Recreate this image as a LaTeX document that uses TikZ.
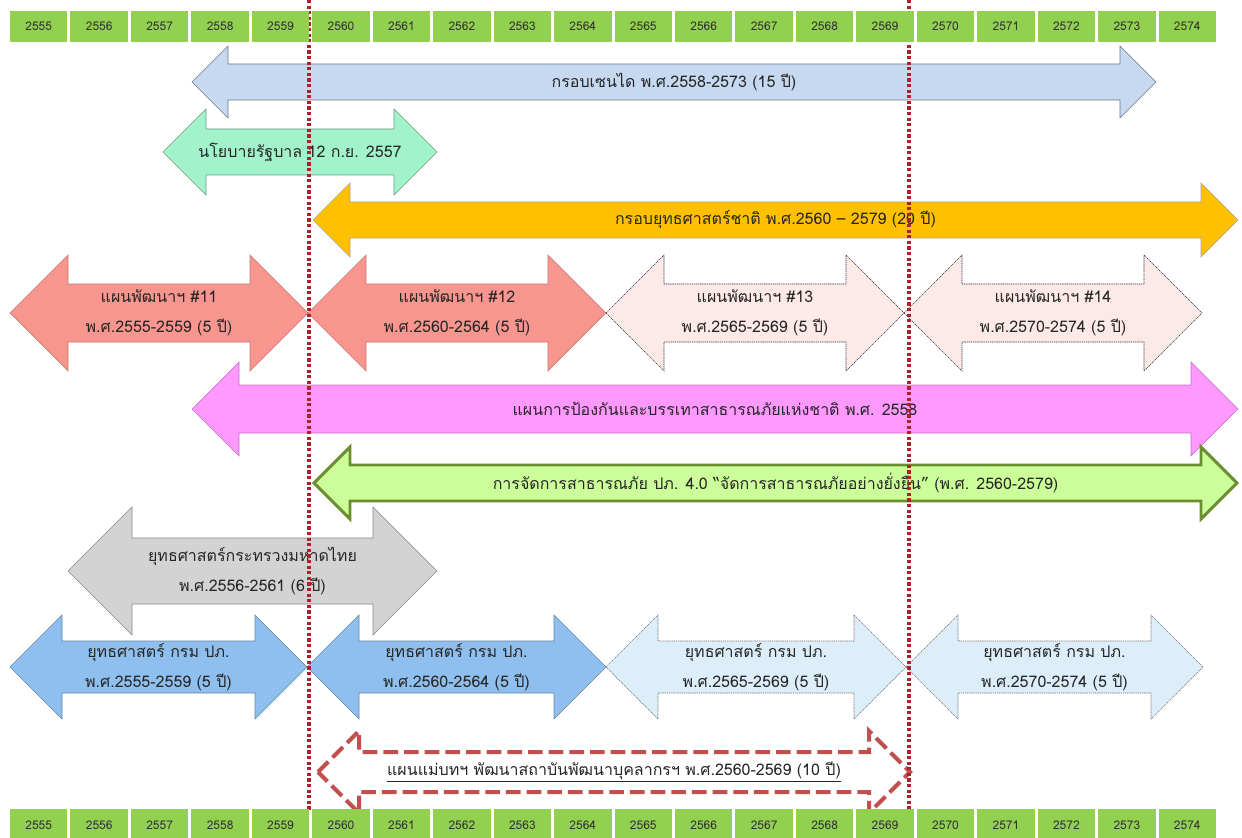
\documentclass[tikz,border=0pt]{standalone}
\usepackage{fontspec}
\newfontfamily\thaifnt[Script=Thai]{Loma}
\usepackage{tikz}
\usetikzlibrary{calc,positioning}

\definecolor{yeargreen}{HTML}{92D050}
\definecolor{sendaiblue}{HTML}{C6D9F1}
\definecolor{policymint}{HTML}{A2F2CC}
\definecolor{nationyellow}{HTML}{FFC000}
\definecolor{devsalmon}{HTML}{F7968F}
\definecolor{devpale}{HTML}{FDE9E8}
\definecolor{drmviolet}{HTML}{FF99FF}
\definecolor{mgmtlime}{HTML}{CCFF99}
\definecolor{mgmtolive}{HTML}{6B8E2F}
\definecolor{mointgray}{HTML}{D3D3D3}
\definecolor{ddpmblue}{HTML}{8EBFEF}
\definecolor{ddpmpale}{HTML}{DDEEFB}
\definecolor{cutred}{HTML}{A8232A}
\definecolor{hrdred}{HTML}{C0504D}

\tikzset{
    >=stealth,
    yearcell/.style={
        rectangle,
        fill=yeargreen,
        minimum width=43.1pt,
        minimum height=23.3pt,
        inner sep=0pt,
        text=black!80,
        font=\thaifnt\fontsize{9}{10}\selectfont
    },
    plantext/.style={
        inner sep=0pt,
        align=center,
        text=black!85,
        font=\thaifnt\fontsize{12}{22.5}\selectfont
    },
    cutline/.style={draw=cutred, line width=2.6pt, dash pattern=on 2.4pt off 1.8pt},
}

% two headed arrow: style, left tip, right tip, centre y, half shaft, half head, name, text
\newcommand\twoway[8]{%
    \draw[#1] ({#2},{#4}) -- ({#2+#6},{#4-#6}) -- ({#2+#6},{#4-#5})
        -- ({#3-#6},{#4-#5}) -- ({#3-#6},{#4-#6}) -- ({#3},{#4})
        -- ({#3-#6},{#4+#6}) -- ({#3-#6},{#4+#5}) -- ({#2+#6},{#4+#5})
        -- ({#2+#6},{#4+#6}) -- cycle;
    \node[plantext] (#7) at ({(#2+#3)/2},{#4}) {#8};
}

\begin{document}
\begin{tikzpicture}[x=0.75pt,y=-0.75pt]
        % Setup the styles for the arrows
        \tikzset{sendai/.style={fill=sendaiblue, draw=black!45!sendaiblue, thin},
                 policy/.style={fill=policymint, draw=black!35!policymint, thin},
                 nation/.style={fill=nationyellow, draw=black!35, thin},
                 devnow/.style={fill=devsalmon, draw=black!20!devsalmon, thin},
                 devnext/.style={fill=devpale, draw=black!80, thin, dash pattern=on 1pt off 0.6pt},
                 drm/.style={fill=drmviolet, draw=black!25!drmviolet, thin},
                 mgmt/.style={fill=mgmtlime, draw=mgmtolive, line width=2.2pt},
                 moi/.style={fill=mointgray, draw=black!35!mointgray, thin},
                 ddpmnow/.style={fill=ddpmblue, draw=black!30!ddpmblue, thin},
                 ddpmnext/.style={fill=ddpmpale, draw=black!55, thin, dash pattern=on 1pt off 0.6pt},
                 hrd/.style={fill=white, draw=hrdred, line width=3pt, dash pattern=on 11pt off 4.5pt}}

        \useasboundingbox (0,0) rectangle (1242,838);

        \twoway{sendai}{192}{1156}{82}{18}{36}{sendai}{กรอบเซนได พ.ศ.2558-2573 (15 ปี)}
        \twoway{policy}{163}{437}{152}{23}{43}{policy}{นโยบายรัฐบาล 12 ก.ย. 2557}
        \twoway{nation}{313}{1238}{220}{18}{37}{nation}{กรอบยุทธศาสตร์ชาติ พ.ศ.2560 – 2579 (20 ปี)}

        \twoway{devnow}{10}{308}{313}{29}{58}{dev11}{แผนพัฒนาฯ \#11\\พ.ศ.2555-2559 (5 ปี)}
        \twoway{devnow}{308}{606}{313}{29}{58}{dev12}{แผนพัฒนาฯ \#12\\พ.ศ.2560-2564 (5 ปี)}
        \twoway{devnext}{606}{904}{313}{29}{58}{dev13}{แผนพัฒนาฯ \#13\\พ.ศ.2565-2569 (5 ปี)}
        \twoway{devnext}{904}{1202}{313}{29}{58}{dev14}{แผนพัฒนาฯ \#14\\พ.ศ.2570-2574 (5 ปี)}

        \twoway{drm}{192}{1238}{409}{24}{47}{drm}{แผนการป้องกันและบรรเทาสาธารณภัยแห่งชาติ พ.ศ. 2558}
        \twoway{mgmt}{314}{1237}{483}{18}{36}{mgmt}{การจัดการสาธารณภัย ปภ. 4.0 “จัดการสาธารณภัยอย่างยั่งยืน” (พ.ศ. 2560-2579)}

        \twoway{moi}{68}{437}{571}{33}{64}{moi}{ยุทธศาสตร์กระทรวงมหาดไทย\\พ.ศ.2556-2561 (6 ปี)}

        \twoway{ddpmnow}{10}{307}{667}{26}{52}{ddpm1}{ยุทธศาสตร์ กรม ปภ.\\พ.ศ.2555-2559 (5 ปี)}
        \twoway{ddpmnow}{307}{606}{667}{26}{52}{ddpm2}{ยุทธศาสตร์ กรม ปภ.\\พ.ศ.2560-2564 (5 ปี)}
        \twoway{ddpmnext}{606}{906}{667}{26}{52}{ddpm3}{ยุทธศาสตร์ กรม ปภ.\\พ.ศ.2565-2569 (5 ปี)}
        \twoway{ddpmnext}{906}{1203}{667}{26}{52}{ddpm4}{ยุทธศาสตร์ กรม ปภ.\\พ.ศ.2570-2574 (5 ปี)}

        \twoway{hrd}{318}{910}{772}{20}{41}{hrd}{\underline{แผนแม่บทฯ พัฒนาสถาบันพัฒนาบุคลากรฯ พ.ศ.2560-2569 (10 ปี)}}

        % Draw the two cut lines of the plan periods
        \coordinate (cutA top) at (309,0);
        \coordinate (cutA bot) at (309,810);
        \coordinate (cutB top) at (909,0);
        \coordinate (cutB bot) at (909,810);
        \draw[cutline] (cutA top) -- (cutA bot);
        \draw[cutline] (cutB top) -- (cutB bot);

        % Year scale, top and bottom
        \foreach \i in {0,...,19} {
            \pgfmathtruncatemacro\yr{2555+\i}
            \node[yearcell] (top\i) at ({38.75+60.45*\i},26.5) {\yr};
            \node[yearcell] (bot\i) at ({38.75+60.45*\i},825) {\yr};
        }
\end{tikzpicture}
\end{document}
